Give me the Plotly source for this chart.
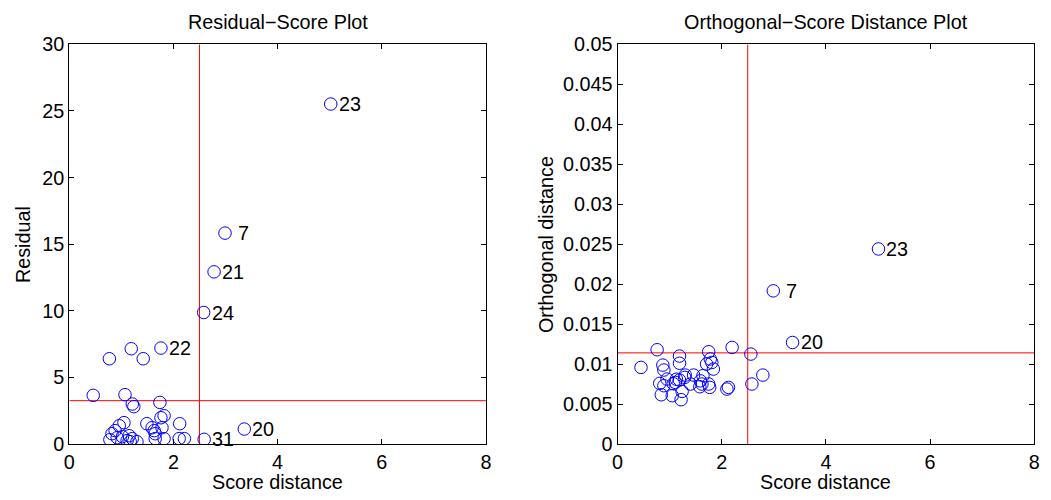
import plotly.graph_objects as go

# Residual vs. score distance (left panel)
res_score_dist = [5.02, 2.99, 2.78, 2.58, 1.76, 3.36, 2.59,
                  0.77, 1.19, 1.42, 0.46, 1.07, 1.21, 1.24, 1.74, 1.82, 1.76,
                  2.12, 1.05, 0.96, 0.88, 0.82, 0.78, 0.92, 1.15, 1.21, 1.11,
                  1.30, 1.49, 1.59, 1.63, 1.78, 1.65, 1.65, 1.82, 2.11, 2.21,
                  1.02, 1.17]
residual = [25.52, 15.83, 12.92, 9.87, 7.20, 1.12, 0.35,
            6.40, 7.15, 6.40, 3.65, 3.70, 3.00, 2.80, 3.12, 2.12, 1.97,
            1.52, 1.60, 1.37, 1.00, 0.77, 0.32, 0.47, 0.62, 0.40, 0.25,
            0.17, 1.52, 1.22, 1.00, 1.22, 0.77, 0.40, 0.40, 0.40, 0.40,
            0.55, 0.17]
res_labels = ["23", "7", "21", "24", "22", "20", "31"] + [""] * 32

# Orthogonal distance vs. score distance (right panel)
od_score_dist = [5.01, 2.99, 3.36,
                 0.45, 0.76, 0.87, 0.89, 0.81, 0.89, 0.84, 1.05, 0.95, 1.13,
                 1.19, 1.11, 1.07, 1.24, 1.22, 1.19, 1.19, 1.30, 1.46, 1.40,
                 1.59, 1.62, 1.58, 1.64, 1.75, 1.77, 1.75, 1.78, 1.81, 1.84,
                 1.71, 2.10, 2.13, 2.20, 2.56, 2.58, 2.79, 1.29]
orth_dist = [0.0244, 0.01916, 0.0127,
             0.00958, 0.01179, 0.00987, 0.00925, 0.00758, 0.00729, 0.00616,
             0.00604, 0.00812, 0.00810, 0.00800, 0.00770, 0.00754, 0.00658,
             0.00554, 0.01100, 0.01010, 0.00862, 0.00862, 0.00750, 0.00790,
             0.00750, 0.00716, 0.00854, 0.00750, 0.00708, 0.01154, 0.01063,
             0.01020, 0.00937, 0.01000, 0.00687, 0.00708, 0.01208, 0.01125,
             0.00750, 0.00862, 0.00833]
od_labels = ["23", "7", "20"] + [""] * 38

# Cutoff values
sd_cutoff = 2.5
res_cutoff = 3.25
od_cutoff = 0.0114

x_range = [0, 8]
res_range = [0, 30]
od_range = [0, 0.05]

res_yticks = [0, 5, 10, 15, 20, 25, 30]
od_yticks = [0, 0.005, 0.01, 0.015, 0.02, 0.025, 0.03, 0.035, 0.04, 0.045, 0.05]
od_yticktext = ["0", "0.005", "0.01", "0.015", "0.02", "0.025", "0.03",
                "0.035", "0.04", "0.045", "0.05"]
x_ticks = [0, 2, 4, 6, 8]

FONT = "Liberation Sans, Arial, Helvetica, sans-serif"
FS = 19.8
W, H = 1051, 500


def fx(v):
    return v / W


def fy(v):
    return 1 - v / H


fig = go.Figure()

marker = dict(symbol="circle-open", size=12.5, color="#0000FF",
              line=dict(width=1, color="#0000FF"))

red = dict(color="#FF0000", width=1)

# Cutoff lines (drawn first so the markers sit on top)
for xa, ya, yr, ycut in [("x", "y", res_range, res_cutoff),
                         ("x2", "y2", od_range, od_cutoff)]:
    fig.add_trace(go.Scatter(x=[sd_cutoff, sd_cutoff], y=yr, mode="lines",
                             line=red, xaxis=xa, yaxis=ya,
                             showlegend=False, hoverinfo="skip"))
    fig.add_trace(go.Scatter(x=x_range, y=[ycut, ycut], mode="lines",
                             line=red, xaxis=xa, yaxis=ya,
                             showlegend=False, hoverinfo="skip"))

fig.add_trace(go.Scatter(x=res_score_dist, y=residual, mode="markers",
                         marker=marker, xaxis="x", yaxis="y",
                         showlegend=False, hoverinfo="skip"))
fig.add_trace(go.Scatter(x=od_score_dist, y=orth_dist, mode="markers",
                         marker=marker, xaxis="x2", yaxis="y2",
                         showlegend=False, hoverinfo="skip"))

# Panel geometry in pixels
left_px = (64.0, 485.5)
right_px = (618.6, 1040.1)
top_px, bot_px = 34.9, 452.9
ydom = [fy(bot_px), fy(top_px)]

axis_common = dict(showgrid=False, zeroline=False, showline=True,
                   linecolor="black", linewidth=1, mirror="ticks",
                   ticks="inside", ticklen=5, tickcolor="black",
                   tickfont=dict(family=FONT, size=FS, color="black"))

fig.update_layout(
    width=W, height=H,
    margin=dict(l=0, r=0, t=0, b=0),
    paper_bgcolor="white", plot_bgcolor="white",
    xaxis=dict(domain=[fx(left_px[0]), fx(left_px[1])], range=x_range,
               tickvals=x_ticks, anchor="y", **axis_common),
    yaxis=dict(domain=ydom, range=res_range, tickvals=res_yticks,
               anchor="x", **axis_common),
    xaxis2=dict(domain=[fx(right_px[0]), fx(right_px[1])], range=x_range,
                tickvals=x_ticks, anchor="y2", **axis_common),
    yaxis2=dict(domain=ydom, range=od_range, tickvals=od_yticks,
                ticktext=od_yticktext, anchor="x2", **axis_common),
)


# Point labels
def add_labels(xs, ys, labels, xref, yref):
    for x, y, t in zip(xs, ys, labels):
        if not t:
            continue
        shift = 6 if len(t) > 1 else 11
        fig.add_annotation(x=x, y=y, xref=xref, yref=yref, text=t,
                           showarrow=False, xanchor="left", yanchor="middle",
                           xshift=shift,
                           font=dict(family=FONT, size=FS, color="black"))


add_labels(res_score_dist, residual, res_labels, "x", "y")
add_labels(od_score_dist, orth_dist, od_labels, "x2", "y2")

# Titles and axis labels
text_font = dict(family=FONT, size=FS, color="black")
for (l, r), title, ylab, ylab_x in [
        (left_px, "Residual\u2212Score Plot", "Residual", 17),
        (right_px, "Orthogonal\u2212Score Distance Plot", "Orthogonal distance", 546)]:
    cx = fx((l + r) / 2)
    fig.add_annotation(x=cx, y=fy(11.6), xref="paper", yref="paper",
                       text=title, showarrow=False, xanchor="center",
                       yanchor="middle", font=text_font)
    fig.add_annotation(x=cx, y=fy(492.5), xref="paper", yref="paper",
                       text="Score distance", showarrow=False, xanchor="center",
                       yanchor="middle", font=text_font)
    fig.add_annotation(x=fx(ylab_x), y=fy(244), xref="paper", yref="paper",
                       text=ylab, showarrow=False, textangle=-90,
                       xanchor="center", yanchor="middle", font=text_font)

fig.write_html("out.html")
